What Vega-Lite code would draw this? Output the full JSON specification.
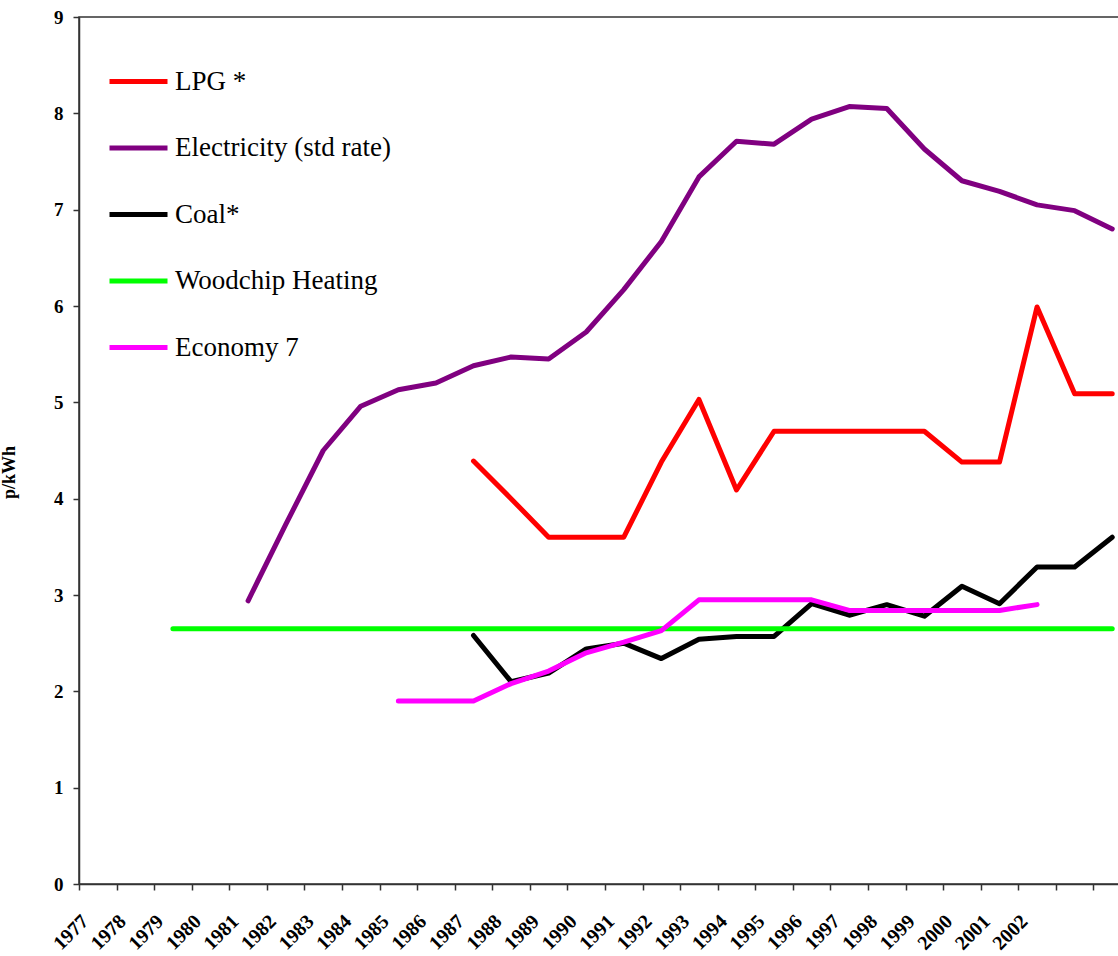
{
  "$schema": "https://vega.github.io/schema/vega-lite/v6.json",
  "width": 1052,
  "height": 867,
  "autosize": {"type": "none"},
  "padding": {"left": 79, "top": 17, "right": -13, "bottom": 72},
  "background": "white",
  "config": {
    "view": {"stroke": "#333333", "strokeWidth": 1.5},
    "font": "Liberation Serif"
  },
  "data": {
    "values": [
      {"year": 1987, "fuel": "LPG *", "price": 4.39},
      {"year": 1988, "fuel": "LPG *", "price": 4.0},
      {"year": 1989, "fuel": "LPG *", "price": 3.6},
      {"year": 1990, "fuel": "LPG *", "price": 3.6},
      {"year": 1991, "fuel": "LPG *", "price": 3.6},
      {"year": 1992, "fuel": "LPG *", "price": 4.38},
      {"year": 1993, "fuel": "LPG *", "price": 5.03},
      {"year": 1994, "fuel": "LPG *", "price": 4.09},
      {"year": 1995, "fuel": "LPG *", "price": 4.7},
      {"year": 1996, "fuel": "LPG *", "price": 4.7},
      {"year": 1997, "fuel": "LPG *", "price": 4.7},
      {"year": 1998, "fuel": "LPG *", "price": 4.7},
      {"year": 1999, "fuel": "LPG *", "price": 4.7},
      {"year": 2000, "fuel": "LPG *", "price": 4.38},
      {"year": 2001, "fuel": "LPG *", "price": 4.38},
      {"year": 2002, "fuel": "LPG *", "price": 5.99},
      {"year": 2003, "fuel": "LPG *", "price": 5.09},
      {"year": 2004, "fuel": "LPG *", "price": 5.09},
      {"year": 1981, "fuel": "Electricity (std rate)", "price": 2.94},
      {"year": 1982, "fuel": "Electricity (std rate)", "price": 3.73},
      {"year": 1983, "fuel": "Electricity (std rate)", "price": 4.5},
      {"year": 1984, "fuel": "Electricity (std rate)", "price": 4.96},
      {"year": 1985, "fuel": "Electricity (std rate)", "price": 5.13},
      {"year": 1986, "fuel": "Electricity (std rate)", "price": 5.2},
      {"year": 1987, "fuel": "Electricity (std rate)", "price": 5.38},
      {"year": 1988, "fuel": "Electricity (std rate)", "price": 5.47},
      {"year": 1989, "fuel": "Electricity (std rate)", "price": 5.45},
      {"year": 1990, "fuel": "Electricity (std rate)", "price": 5.73},
      {"year": 1991, "fuel": "Electricity (std rate)", "price": 6.17},
      {"year": 1992, "fuel": "Electricity (std rate)", "price": 6.67},
      {"year": 1993, "fuel": "Electricity (std rate)", "price": 7.34},
      {"year": 1994, "fuel": "Electricity (std rate)", "price": 7.71},
      {"year": 1995, "fuel": "Electricity (std rate)", "price": 7.68},
      {"year": 1996, "fuel": "Electricity (std rate)", "price": 7.94},
      {"year": 1997, "fuel": "Electricity (std rate)", "price": 8.07},
      {"year": 1998, "fuel": "Electricity (std rate)", "price": 8.05},
      {"year": 1999, "fuel": "Electricity (std rate)", "price": 7.63},
      {"year": 2000, "fuel": "Electricity (std rate)", "price": 7.3},
      {"year": 2001, "fuel": "Electricity (std rate)", "price": 7.19},
      {"year": 2002, "fuel": "Electricity (std rate)", "price": 7.05},
      {"year": 2003, "fuel": "Electricity (std rate)", "price": 6.99},
      {"year": 2004, "fuel": "Electricity (std rate)", "price": 6.8},
      {"year": 1987, "fuel": "Coal*", "price": 2.58},
      {"year": 1988, "fuel": "Coal*", "price": 2.1},
      {"year": 1989, "fuel": "Coal*", "price": 2.19},
      {"year": 1990, "fuel": "Coal*", "price": 2.44},
      {"year": 1991, "fuel": "Coal*", "price": 2.5},
      {"year": 1992, "fuel": "Coal*", "price": 2.34},
      {"year": 1993, "fuel": "Coal*", "price": 2.54},
      {"year": 1994, "fuel": "Coal*", "price": 2.57},
      {"year": 1995, "fuel": "Coal*", "price": 2.57},
      {"year": 1996, "fuel": "Coal*", "price": 2.91},
      {"year": 1997, "fuel": "Coal*", "price": 2.79},
      {"year": 1998, "fuel": "Coal*", "price": 2.9},
      {"year": 1999, "fuel": "Coal*", "price": 2.78},
      {"year": 2000, "fuel": "Coal*", "price": 3.09},
      {"year": 2001, "fuel": "Coal*", "price": 2.91},
      {"year": 2002, "fuel": "Coal*", "price": 3.29},
      {"year": 2003, "fuel": "Coal*", "price": 3.29},
      {"year": 2004, "fuel": "Coal*", "price": 3.6},
      {"year": 1979, "fuel": "Woodchip Heating", "price": 2.65},
      {"year": 1980, "fuel": "Woodchip Heating", "price": 2.65},
      {"year": 1981, "fuel": "Woodchip Heating", "price": 2.65},
      {"year": 1982, "fuel": "Woodchip Heating", "price": 2.65},
      {"year": 1983, "fuel": "Woodchip Heating", "price": 2.65},
      {"year": 1984, "fuel": "Woodchip Heating", "price": 2.65},
      {"year": 1985, "fuel": "Woodchip Heating", "price": 2.65},
      {"year": 1986, "fuel": "Woodchip Heating", "price": 2.65},
      {"year": 1987, "fuel": "Woodchip Heating", "price": 2.65},
      {"year": 1988, "fuel": "Woodchip Heating", "price": 2.65},
      {"year": 1989, "fuel": "Woodchip Heating", "price": 2.65},
      {"year": 1990, "fuel": "Woodchip Heating", "price": 2.65},
      {"year": 1991, "fuel": "Woodchip Heating", "price": 2.65},
      {"year": 1992, "fuel": "Woodchip Heating", "price": 2.65},
      {"year": 1993, "fuel": "Woodchip Heating", "price": 2.65},
      {"year": 1994, "fuel": "Woodchip Heating", "price": 2.65},
      {"year": 1995, "fuel": "Woodchip Heating", "price": 2.65},
      {"year": 1996, "fuel": "Woodchip Heating", "price": 2.65},
      {"year": 1997, "fuel": "Woodchip Heating", "price": 2.65},
      {"year": 1998, "fuel": "Woodchip Heating", "price": 2.65},
      {"year": 1999, "fuel": "Woodchip Heating", "price": 2.65},
      {"year": 2000, "fuel": "Woodchip Heating", "price": 2.65},
      {"year": 2001, "fuel": "Woodchip Heating", "price": 2.65},
      {"year": 2002, "fuel": "Woodchip Heating", "price": 2.65},
      {"year": 2003, "fuel": "Woodchip Heating", "price": 2.65},
      {"year": 2004, "fuel": "Woodchip Heating", "price": 2.65},
      {"year": 1985, "fuel": "Economy 7", "price": 1.9},
      {"year": 1986, "fuel": "Economy 7", "price": 1.9},
      {"year": 1987, "fuel": "Economy 7", "price": 1.9},
      {"year": 1988, "fuel": "Economy 7", "price": 2.08},
      {"year": 1989, "fuel": "Economy 7", "price": 2.21},
      {"year": 1990, "fuel": "Economy 7", "price": 2.4},
      {"year": 1991, "fuel": "Economy 7", "price": 2.51},
      {"year": 1992, "fuel": "Economy 7", "price": 2.63},
      {"year": 1993, "fuel": "Economy 7", "price": 2.95},
      {"year": 1994, "fuel": "Economy 7", "price": 2.95},
      {"year": 1995, "fuel": "Economy 7", "price": 2.95},
      {"year": 1996, "fuel": "Economy 7", "price": 2.95},
      {"year": 1997, "fuel": "Economy 7", "price": 2.84},
      {"year": 1998, "fuel": "Economy 7", "price": 2.84},
      {"year": 1999, "fuel": "Economy 7", "price": 2.84},
      {"year": 2000, "fuel": "Economy 7", "price": 2.84},
      {"year": 2001, "fuel": "Economy 7", "price": 2.84},
      {"year": 2002, "fuel": "Economy 7", "price": 2.9}
    ]
  },
  "mark": {"type": "line", "strokeWidth": 5, "strokeCap": "round", "strokeJoin": "round"},
  "encoding": {
    "x": {
      "field": "year",
      "type": "ordinal",
      "scale": {
        "type": "band",
        "domain": [1977, 1978, 1979, 1980, 1981, 1982, 1983, 1984, 1985, 1986, 1987, 1988, 1989, 1990, 1991, 1992, 1993, 1994, 1995, 1996, 1997, 1998, 1999, 2000, 2001, 2002, 2003, 2004],
        "paddingInner": 0,
        "paddingOuter": 0
      },
      "axis": {
        "title": null,
        "tickBand": "extent",
        "labelAngle": -45,
        "labelAlign": "right",
        "labelBaseline": "middle",
        "labelOffset": -13,
        "labelPadding": 28,
        "labelFont": "Liberation Serif",
        "labelFontSize": 20,
        "labelFontWeight": "bold",
        "labelColor": "#000000",
        "labelExpr": "datum.value > 2002 ? '' : datum.label",
        "tickSize": 6,
        "tickColor": "#333333",
        "tickWidth": 1.5,
        "domainColor": "#333333",
        "domainWidth": 1.5,
        "grid": false,
        "labelOverlap": false
      }
    },
    "y": {
      "field": "price",
      "type": "quantitative",
      "scale": {"domain": [0, 9], "nice": false, "zero": true},
      "axis": {
        "title": "p/kWh",
        "titleFont": "Liberation Serif",
        "titleFontSize": 18,
        "titleFontWeight": "bold",
        "titleColor": "#000000",
        "titleX": -61,
        "titleY": 455,
        "titleAngle": -90,
        "titleBaseline": "bottom",
        "titleAlign": "center",
        "values": [0, 1, 2, 3, 4, 5, 6, 7, 8, 9],
        "labelFont": "Liberation Serif",
        "labelFontSize": 19,
        "labelFontWeight": "bold",
        "labelColor": "#000000",
        "labelPadding": 10,
        "tickSize": 6,
        "tickColor": "#333333",
        "tickWidth": 1.5,
        "domainColor": "#333333",
        "domainWidth": 1.5,
        "grid": false
      }
    },
    "color": {
      "field": "fuel",
      "type": "nominal",
      "scale": {
        "domain": ["LPG *", "Electricity (std rate)", "Coal*", "Woodchip Heating", "Economy 7"],
        "range": ["#FF0000", "#800080", "#000000", "#00FF00", "#FF00FF"]
      },
      "legend": {
        "title": null,
        "orient": "none",
        "legendX": 28,
        "legendY": 33,
        "symbolType": "stroke",
        "symbolSize": 3364,
        "symbolStrokeWidth": 5,
        "labelFont": "Liberation Serif",
        "labelFontSize": 27,
        "labelColor": "#000000",
        "labelOffset": 5,
        "rowPadding": 21.5,
        "padding": 0,
        "labelLimit": 400
      }
    }
  }
}
